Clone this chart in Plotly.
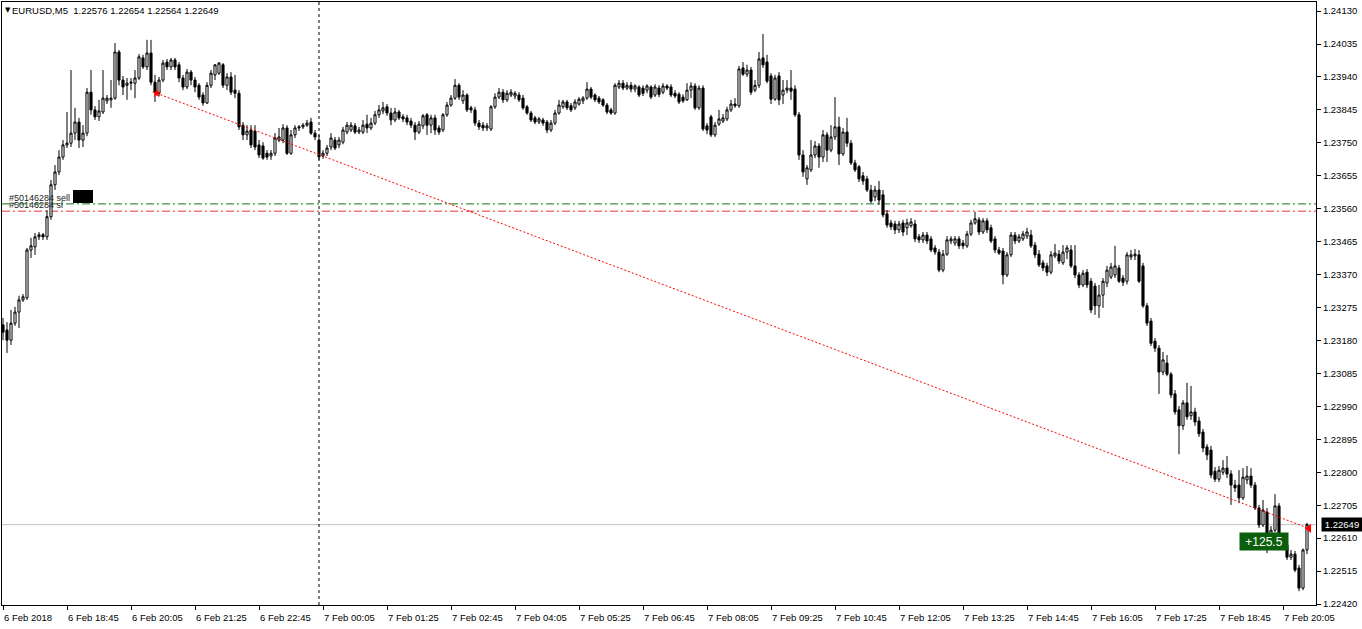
import plotly.graph_objects as go
import pandas as pd

# ---------------- data ----------------
symbol_title = "EURUSD,M5"
title_ohlc = ["1.22576", "1.22654", "1.22564", "1.22649"]
first_bar = "2018-02-06 17:25"

opens = [
    1.23225, 1.23210, 1.23181, 1.23230, 1.23262, 1.23297, 1.23303, 1.23441, 1.23450, 1.23479,
    1.23485, 1.23479, 1.23537, 1.23629, 1.23666, 1.23709, 1.23744, 1.23749, 1.23778, 1.23810,
    1.23758, 1.23778, 1.23896, 1.23845, 1.23825, 1.23839, 1.23871, 1.23874, 1.23879, 1.24012,
    1.23931, 1.23916, 1.23922, 1.23922, 1.23937, 1.23995, 1.23969, 1.24009, 1.23925, 1.23893,
    1.23931, 1.23983, 1.23969, 1.23989, 1.23975, 1.23937, 1.23911, 1.23954, 1.23931, 1.23916,
    1.23888, 1.23865, 1.23916, 1.23946, 1.23951, 1.23975, 1.23916, 1.23940, 1.23902, 1.23893,
    1.23801, 1.23773, 1.23787, 1.23784, 1.23744, 1.23741, 1.23720, 1.23712, 1.23720, 1.23758,
    1.23758, 1.23793, 1.23720, 1.23773, 1.23793, 1.23796, 1.23801, 1.23810, 1.23778, 1.23758,
    1.23712, 1.23720, 1.23738, 1.23758, 1.23744, 1.23752, 1.23781, 1.23787, 1.23799, 1.23781,
    1.23781, 1.23804, 1.23793, 1.23807, 1.23831, 1.23842, 1.23854, 1.23836, 1.23816, 1.23839,
    1.23825, 1.23822, 1.23813, 1.23801, 1.23781, 1.23799, 1.23831, 1.23801, 1.23822, 1.23793,
    1.23787, 1.23831, 1.23859, 1.23879, 1.23916, 1.23871, 1.23888, 1.23851, 1.23845, 1.23807,
    1.23801, 1.23793, 1.23790, 1.23854, 1.23882, 1.23896, 1.23874, 1.23888, 1.23885, 1.23888,
    1.23879, 1.23854, 1.23836, 1.23822, 1.23810, 1.23816, 1.23810, 1.23787, 1.23807, 1.23836,
    1.23854, 1.23868, 1.23857, 1.23851, 1.23862, 1.23871, 1.23879, 1.23905, 1.23888, 1.23879,
    1.23874, 1.23859, 1.23845, 1.23836, 1.23911, 1.23922, 1.23908, 1.23916, 1.23905, 1.23911,
    1.23908, 1.23902, 1.23911, 1.23888, 1.23908, 1.23896, 1.23914, 1.23911, 1.23893, 1.23890,
    1.23882, 1.23874, 1.23902, 1.23914, 1.23851, 1.23908, 1.23799, 1.23825, 1.23773, 1.23804,
    1.23813, 1.23819, 1.23845, 1.23862, 1.23857, 1.23966, 1.23948, 1.23960, 1.23902, 1.23916,
    1.23995, 1.23983, 1.23943, 1.23876, 1.23943, 1.23888, 1.23902, 1.23908, 1.23905, 1.23831,
    1.23715, 1.23646, 1.23672, 1.23715, 1.23741, 1.23709, 1.23773, 1.23729, 1.23767, 1.23796,
    1.23718, 1.23781, 1.23749, 1.23692, 1.23681, 1.23655, 1.23646, 1.23614, 1.23594, 1.23614,
    1.23600, 1.23545, 1.23519, 1.23516, 1.23499, 1.23519, 1.23505, 1.23511, 1.23516, 1.23479,
    1.23470, 1.23484, 1.23473, 1.23447, 1.23435, 1.23383, 1.23429, 1.23467, 1.23461, 1.23473,
    1.23461, 1.23453, 1.23487, 1.23519, 1.23528, 1.23493, 1.23525, 1.23505, 1.23473, 1.23441,
    1.23438, 1.23369, 1.23427, 1.23484, 1.23467, 1.23473, 1.23481, 1.23484, 1.23455, 1.23429,
    1.23404, 1.23395, 1.23377, 1.23424, 1.23429, 1.23404, 1.23435, 1.23441, 1.23395, 1.23369,
    1.23340, 1.23377, 1.23351, 1.23337, 1.23280, 1.23311, 1.23346, 1.23363, 1.23369, 1.23389,
    1.23360, 1.23351, 1.23421, 1.23424, 1.23427, 1.23395, 1.23280, 1.23236, 1.23178, 1.23158,
    1.23089, 1.23115, 1.23083, 1.23026, 1.22980, 1.22934, 1.23000, 1.22963, 1.22974, 1.22948,
    1.22916, 1.22873, 1.22864, 1.22803, 1.22780, 1.22800, 1.22812, 1.22795, 1.22763, 1.22763,
    1.22726, 1.22778, 1.22789, 1.22763, 1.22697, 1.22648, 1.22685, 1.22587, 1.22633, 1.22703,
    1.22607, 1.22590, 1.22555, 1.22564, 1.22524, 1.22466, 1.22576,
]

highs = [
    1.23245, 1.23233, 1.23268, 1.23277, 1.23309, 1.23314, 1.23447, 1.23476, 1.23490, 1.23493,
    1.23490, 1.23556, 1.23643, 1.23686, 1.23729, 1.23758, 1.23839, 1.23960, 1.23851, 1.23822,
    1.23801, 1.23908, 1.23960, 1.23856, 1.23874, 1.23960, 1.23888, 1.23931, 1.24038, 1.24018,
    1.23943, 1.23937, 1.23937, 1.23960, 1.24006, 1.24004, 1.24047, 1.24047, 1.23946, 1.23940,
    1.23989, 1.23992, 1.23995, 1.23995, 1.23983, 1.23946, 1.23963, 1.23960, 1.23940, 1.23922,
    1.23896, 1.23925, 1.23960, 1.23977, 1.23983, 1.23980, 1.23951, 1.23954, 1.23946, 1.23902,
    1.23810, 1.23801, 1.23801, 1.23801, 1.23758, 1.23752, 1.23729, 1.23729, 1.23778, 1.23793,
    1.23804, 1.23801, 1.23787, 1.23801, 1.23801, 1.23807, 1.23816, 1.23822, 1.23787, 1.23773,
    1.23729, 1.23744, 1.23778, 1.23767, 1.23767, 1.23796, 1.23810, 1.23810, 1.23807, 1.23796,
    1.23816, 1.23831, 1.23822, 1.23842, 1.23859, 1.23868, 1.23862, 1.23851, 1.23851, 1.23845,
    1.23833, 1.23831, 1.23822, 1.23810, 1.23813, 1.23833, 1.23836, 1.23831, 1.23831, 1.23801,
    1.23836, 1.23868, 1.23888, 1.23934, 1.23922, 1.23902, 1.23893, 1.23857, 1.23854, 1.23816,
    1.23810, 1.23807, 1.23859, 1.23893, 1.23908, 1.23905, 1.23902, 1.23905, 1.23899, 1.23896,
    1.23888, 1.23859, 1.23842, 1.23828, 1.23825, 1.23822, 1.23816, 1.23816, 1.23845, 1.23874,
    1.23874, 1.23874, 1.23865, 1.23876, 1.23882, 1.23885, 1.23925, 1.23911, 1.23893, 1.23885,
    1.23879, 1.23865, 1.23851, 1.23922, 1.23931, 1.23931, 1.23925, 1.23925, 1.23919, 1.23916,
    1.23916, 1.23919, 1.23916, 1.23919, 1.23916, 1.23922, 1.23919, 1.23919, 1.23902, 1.23896,
    1.23890, 1.23922, 1.23925, 1.23922, 1.23916, 1.23916, 1.23807, 1.23831, 1.23810, 1.23845,
    1.23833, 1.23854, 1.23874, 1.23879, 1.23972, 1.23983, 1.23975, 1.23969, 1.23931, 1.24012,
    1.24064, 1.24004, 1.23951, 1.23946, 1.23954, 1.23931, 1.23931, 1.23960, 1.23916, 1.23839,
    1.23729, 1.23686, 1.23758, 1.23755, 1.23749, 1.23787, 1.23781, 1.23801, 1.23882, 1.23825,
    1.23793, 1.23822, 1.23758, 1.23701, 1.23686, 1.23666, 1.23655, 1.23629, 1.23626, 1.23640,
    1.23614, 1.23556, 1.23528, 1.23525, 1.23525, 1.23528, 1.23531, 1.23533, 1.23528, 1.23487,
    1.23493, 1.23493, 1.23481, 1.23455, 1.23444, 1.23441, 1.23481, 1.23481, 1.23481, 1.23481,
    1.23470, 1.23496, 1.23528, 1.23551, 1.23536, 1.23533, 1.23533, 1.23514, 1.23481, 1.23450,
    1.23447, 1.23435, 1.23493, 1.23493, 1.23487, 1.23496, 1.23505, 1.23499, 1.23464, 1.23441,
    1.23412, 1.23404, 1.23438, 1.23458, 1.23441, 1.23455, 1.23455, 1.23455, 1.23455, 1.23377,
    1.23383, 1.23386, 1.23360, 1.23346, 1.23340, 1.23360, 1.23395, 1.23404, 1.23453, 1.23398,
    1.23369, 1.23435, 1.23441, 1.23444, 1.23441, 1.23404, 1.23288, 1.23245, 1.23187, 1.23167,
    1.23147, 1.23138, 1.23089, 1.23037, 1.22991, 1.23008, 1.23058, 1.23049, 1.22986, 1.22960,
    1.22925, 1.22881, 1.22876, 1.22815, 1.22818, 1.22835, 1.22847, 1.22806, 1.22778, 1.22806,
    1.22812, 1.22818, 1.22812, 1.22772, 1.22706, 1.22720, 1.22697, 1.22645, 1.22737, 1.22711,
    1.22619, 1.22605, 1.22576, 1.22573, 1.22533, 1.22580, 1.22654,
]

lows = [
    1.23181, 1.23144, 1.23167, 1.23222, 1.23216, 1.23291, 1.23297, 1.23418, 1.23427, 1.23470,
    1.23470, 1.23470, 1.23528, 1.23614, 1.23657, 1.23701, 1.23735, 1.23738, 1.23758, 1.23735,
    1.23738, 1.23769, 1.23831, 1.23816, 1.23813, 1.23833, 1.23862, 1.23851, 1.23874, 1.23916,
    1.23888, 1.23874, 1.23902, 1.23879, 1.23931, 1.23963, 1.23960, 1.23916, 1.23868, 1.23885,
    1.23925, 1.23960, 1.23960, 1.23960, 1.23925, 1.23902, 1.23905, 1.23916, 1.23896, 1.23874,
    1.23857, 1.23862, 1.23908, 1.23931, 1.23946, 1.23908, 1.23902, 1.23888, 1.23879, 1.23787,
    1.23758, 1.23758, 1.23735, 1.23729, 1.23706, 1.23701, 1.23701, 1.23701, 1.23712, 1.23752,
    1.23749, 1.23715, 1.23715, 1.23764, 1.23784, 1.23790, 1.23796, 1.23773, 1.23758, 1.23701,
    1.23704, 1.23712, 1.23729, 1.23729, 1.23735, 1.23746, 1.23775, 1.23781, 1.23775, 1.23775,
    1.23775, 1.23778, 1.23787, 1.23801, 1.23822, 1.23833, 1.23828, 1.23801, 1.23810, 1.23816,
    1.23810, 1.23801, 1.23793, 1.23758, 1.23775, 1.23790, 1.23773, 1.23778, 1.23773, 1.23773,
    1.23781, 1.23825, 1.23854, 1.23874, 1.23874, 1.23862, 1.23839, 1.23836, 1.23799, 1.23787,
    1.23784, 1.23784, 1.23784, 1.23848, 1.23876, 1.23865, 1.23868, 1.23882, 1.23876, 1.23868,
    1.23845, 1.23831, 1.23810, 1.23804, 1.23804, 1.23799, 1.23778, 1.23781, 1.23801, 1.23831,
    1.23848, 1.23845, 1.23839, 1.23845, 1.23857, 1.23862, 1.23874, 1.23876, 1.23868, 1.23862,
    1.23854, 1.23833, 1.23831, 1.23831, 1.23905, 1.23902, 1.23902, 1.23896, 1.23896, 1.23882,
    1.23885, 1.23893, 1.23876, 1.23882, 1.23882, 1.23890, 1.23902, 1.23882, 1.23879, 1.23862,
    1.23865, 1.23871, 1.23879, 1.23845, 1.23845, 1.23784, 1.23775, 1.23767, 1.23767, 1.23799,
    1.23807, 1.23813, 1.23839, 1.23851, 1.23851, 1.23943, 1.23940, 1.23888, 1.23896, 1.23908,
    1.23966, 1.23922, 1.23862, 1.23871, 1.23859, 1.23862, 1.23893, 1.23874, 1.23825, 1.23701,
    1.23652, 1.23629, 1.23666, 1.23706, 1.23678, 1.23695, 1.23695, 1.23723, 1.23758, 1.23686,
    1.23712, 1.23738, 1.23686, 1.23666, 1.23637, 1.23629, 1.23608, 1.23576, 1.23582, 1.23571,
    1.23535, 1.23505, 1.23499, 1.23487, 1.23490, 1.23481, 1.23484, 1.23505, 1.23464, 1.23461,
    1.23461, 1.23458, 1.23435, 1.23427, 1.23377, 1.23377, 1.23424, 1.23458, 1.23453, 1.23444,
    1.23444, 1.23447, 1.23481, 1.23514, 1.23484, 1.23487, 1.23490, 1.23461, 1.23432, 1.23427,
    1.23342, 1.23363, 1.23421, 1.23458, 1.23461, 1.23467, 1.23473, 1.23447, 1.23418, 1.23392,
    1.23380, 1.23366, 1.23371, 1.23418, 1.23401, 1.23398, 1.23415, 1.23389, 1.23360, 1.23331,
    1.23334, 1.23331, 1.23259, 1.23254, 1.23245, 1.23274, 1.23334, 1.23357, 1.23360, 1.23346,
    1.23337, 1.23342, 1.23412, 1.23412, 1.23346, 1.23274, 1.23222, 1.23164, 1.23147, 1.23026,
    1.23080, 1.23077, 1.23014, 1.22966, 1.22852, 1.22922, 1.22951, 1.22951, 1.22934, 1.22902,
    1.22858, 1.22835, 1.22783, 1.22772, 1.22772, 1.22792, 1.22783, 1.22706, 1.22743, 1.22711,
    1.22720, 1.22766, 1.22755, 1.22691, 1.22639, 1.22642, 1.22567, 1.22581, 1.22627, 1.22587,
    1.22576, 1.22547, 1.22547, 1.22512, 1.22457, 1.22460, 1.22564,
]

closes = [
    1.23204, 1.23181, 1.23230, 1.23262, 1.23297, 1.23306, 1.23441, 1.23453, 1.23479, 1.23485,
    1.23479, 1.23537, 1.23629, 1.23666, 1.23709, 1.23744, 1.23749, 1.23778, 1.23810, 1.23758,
    1.23778, 1.23896, 1.23845, 1.23825, 1.23842, 1.23879, 1.23879, 1.23879, 1.24012, 1.23931,
    1.23911, 1.23922, 1.23925, 1.23937, 1.23998, 1.23969, 1.24009, 1.23925, 1.23896, 1.23931,
    1.23980, 1.23969, 1.23989, 1.23969, 1.23937, 1.23911, 1.23954, 1.23931, 1.23911, 1.23882,
    1.23865, 1.23916, 1.23951, 1.23975, 1.23980, 1.23916, 1.23940, 1.23896, 1.23893, 1.23796,
    1.23773, 1.23784, 1.23744, 1.23738, 1.23715, 1.23706, 1.23709, 1.23720, 1.23764, 1.23767,
    1.23793, 1.23720, 1.23773, 1.23793, 1.23796, 1.23801, 1.23807, 1.23778, 1.23767, 1.23709,
    1.23720, 1.23735, 1.23764, 1.23735, 1.23758, 1.23787, 1.23801, 1.23801, 1.23781, 1.23787,
    1.23801, 1.23793, 1.23807, 1.23831, 1.23845, 1.23851, 1.23836, 1.23816, 1.23839, 1.23822,
    1.23819, 1.23810, 1.23801, 1.23781, 1.23804, 1.23828, 1.23801, 1.23822, 1.23787, 1.23781,
    1.23831, 1.23859, 1.23879, 1.23916, 1.23882, 1.23888, 1.23845, 1.23845, 1.23807, 1.23796,
    1.23793, 1.23799, 1.23854, 1.23882, 1.23896, 1.23874, 1.23893, 1.23896, 1.23893, 1.23874,
    1.23851, 1.23836, 1.23816, 1.23810, 1.23819, 1.23807, 1.23787, 1.23807, 1.23836, 1.23859,
    1.23868, 1.23851, 1.23845, 1.23868, 1.23876, 1.23879, 1.23905, 1.23882, 1.23874, 1.23868,
    1.23859, 1.23839, 1.23836, 1.23916, 1.23922, 1.23908, 1.23916, 1.23905, 1.23914, 1.23888,
    1.23893, 1.23914, 1.23882, 1.23911, 1.23890, 1.23914, 1.23908, 1.23888, 1.23885, 1.23868,
    1.23871, 1.23902, 1.23914, 1.23851, 1.23908, 1.23790, 1.23787, 1.23773, 1.23801, 1.23819,
    1.23822, 1.23845, 1.23862, 1.23857, 1.23963, 1.23948, 1.23960, 1.23896, 1.23916, 1.23992,
    1.23975, 1.23928, 1.23876, 1.23937, 1.23874, 1.23902, 1.23908, 1.23899, 1.23831, 1.23715,
    1.23666, 1.23678, 1.23715, 1.23741, 1.23709, 1.23773, 1.23729, 1.23767, 1.23796, 1.23718,
    1.23781, 1.23749, 1.23692, 1.23672, 1.23646, 1.23640, 1.23614, 1.23582, 1.23614, 1.23585,
    1.23542, 1.23513, 1.23508, 1.23499, 1.23516, 1.23493, 1.23519, 1.23522, 1.23473, 1.23470,
    1.23484, 1.23467, 1.23441, 1.23435, 1.23383, 1.23429, 1.23470, 1.23473, 1.23473, 1.23453,
    1.23453, 1.23487, 1.23519, 1.23531, 1.23493, 1.23525, 1.23499, 1.23467, 1.23441, 1.23432,
    1.23369, 1.23427, 1.23484, 1.23467, 1.23479, 1.23487, 1.23493, 1.23453, 1.23427, 1.23398,
    1.23389, 1.23377, 1.23427, 1.23432, 1.23409, 1.23435, 1.23447, 1.23395, 1.23369, 1.23340,
    1.23374, 1.23340, 1.23268, 1.23280, 1.23311, 1.23351, 1.23383, 1.23392, 1.23395, 1.23351,
    1.23348, 1.23427, 1.23427, 1.23429, 1.23351, 1.23280, 1.23230, 1.23172, 1.23158, 1.23089,
    1.23124, 1.23083, 1.23023, 1.22974, 1.22934, 1.23000, 1.22960, 1.22974, 1.22945, 1.22911,
    1.22870, 1.22850, 1.22792, 1.22780, 1.22806, 1.22812, 1.22795, 1.22763, 1.22755, 1.22726,
    1.22786, 1.22789, 1.22763, 1.22697, 1.22648, 1.22691, 1.22587, 1.22633, 1.22703, 1.22596,
    1.22590, 1.22555, 1.22564, 1.22518, 1.22466, 1.22576, 1.22649,
]

x_tick_times = [
    "2018-02-06 17:25", "2018-02-06 18:45", "2018-02-06 20:05", "2018-02-06 21:25",
    "2018-02-06 22:45", "2018-02-07 00:05", "2018-02-07 01:25", "2018-02-07 02:45",
    "2018-02-07 04:05", "2018-02-07 05:25", "2018-02-07 06:45", "2018-02-07 08:05",
    "2018-02-07 09:25", "2018-02-07 10:45", "2018-02-07 12:05", "2018-02-07 13:25",
    "2018-02-07 14:45", "2018-02-07 16:05", "2018-02-07 17:25", "2018-02-07 18:45",
    "2018-02-07 20:05",
]
x_tick_labels = [
    "6 Feb 2018", "6 Feb 18:45", "6 Feb 20:05", "6 Feb 21:25", "6 Feb 22:45",
    "7 Feb 00:05", "7 Feb 01:25", "7 Feb 02:45", "7 Feb 04:05", "7 Feb 05:25",
    "7 Feb 06:45", "7 Feb 08:05", "7 Feb 09:25", "7 Feb 10:45", "7 Feb 12:05",
    "7 Feb 13:25", "7 Feb 14:45", "7 Feb 16:05", "7 Feb 17:25", "7 Feb 18:45",
    "7 Feb 20:05",
]
y_tick_vals = [
    1.24130, 1.24035, 1.23940, 1.23845, 1.23750, 1.23655, 1.23560, 1.23465, 1.23370,
    1.23275, 1.23180, 1.23085, 1.22990, 1.22895, 1.22800, 1.22705, 1.22610, 1.22515, 1.22420,
]

order_ticket = "#50146284"
sell_level = 1.23574
sl_level = 1.23553
bid_price = 1.22649
separator_time = "2018-02-07 00:00"
trade_times = ["2018-02-06 20:37", "2018-02-07 20:37:30"]
trade_prices = [1.23893, 1.22638]
profit_text = "+125.5"

# ---------------- layout helpers (pixel geometry) ----------------
W, H = 1362, 629
PX0, PX1, PY0, PY1 = 2, 1316, 2, 605
Y_RANGE = [1.224172, 1.241562]
X_RANGE = ["2018-02-06 17:23:45", "2018-02-07 20:46:15"]


def fx(px):
    return (px - PX0) / (PX1 - PX0)


def fy(py):
    return (PY1 - py) / (PY1 - PY0)


FONT = "Liberation Sans, Arial, sans-serif"
times = pd.date_range(first_bar, periods=len(opens), freq="5min")

fig = go.Figure()
fig.add_trace(go.Candlestick(
    x=times, open=opens, high=highs, low=lows, close=closes,
    increasing=dict(line=dict(color="black", width=1), fillcolor="white"),
    decreasing=dict(line=dict(color="black", width=1), fillcolor="black"),
    whiskerwidth=0, showlegend=False, hoverinfo="skip",
))

# trade line
fig.add_trace(go.Scatter(
    x=trade_times, y=trade_prices, mode="lines",
    line=dict(color="red", width=1, dash="2px,2px"),
    showlegend=False, hoverinfo="skip",
))
fig.add_trace(go.Scatter(
    x=[trade_times[0]], y=[trade_prices[0]], mode="markers",
    marker=dict(symbol="star", size=7, color="red"),
    showlegend=False, hoverinfo="skip",
))
fig.add_trace(go.Scatter(
    x=[trade_times[1]], y=[trade_prices[1]], mode="markers",
    marker=dict(symbol="triangle-left", size=8, color="red"),
    showlegend=False, hoverinfo="skip",
))

shapes = [
    dict(type="line", xref="paper", yref="y", x0=0, x1=1, y0=bid_price, y1=bid_price,
         line=dict(color="#C0C0C0", width=1), layer="below"),
    dict(type="line", xref="paper", yref="y", x0=0, x1=1, y0=sell_level, y1=sell_level,
         line=dict(color="#117711", width=1, dash="8px,3px,2px,3px"), layer="below"),
    dict(type="line", xref="paper", yref="y", x0=0, x1=1, y0=sl_level, y1=sl_level,
         line=dict(color="#E83030", width=1, dash="8px,3px,2px,3px"), layer="below"),
    dict(type="line", xref="x", yref="paper", x0=separator_time, x1=separator_time, y0=0, y1=1,
         line=dict(color="black", width=1, dash="3px,3px"), layer="below"),
    dict(type="rect", xref="paper", yref="paper", x0=fx(73), x1=fx(93), y0=fy(203), y1=fy(190),
         fillcolor="black", line=dict(width=0)),
]

ann = []
# title
ann.append(dict(xref="paper", yref="paper", x=fx(3), y=fy(10), xanchor="left", yanchor="middle",
                text="▼", showarrow=False, font=dict(family="DejaVu Sans", size=7, color="black")))
ann.append(dict(xref="paper", yref="paper", x=fx(10), y=fy(10), xanchor="left", yanchor="middle",
                text=symbol_title + "\u00a0\u00a0" + " ".join(title_ohlc), showarrow=False,
                font=dict(family=FONT, size=9.5, color="black")))
# order labels
ann.append(dict(xref="paper", yref="paper", x=fx(7), y=fy(198), xanchor="left", yanchor="middle",
                text=order_ticket + " sell", showarrow=False,
                font=dict(family=FONT, size=9, color="#222222")))
ann.append(dict(xref="paper", yref="paper", x=fx(7), y=fy(205), xanchor="left", yanchor="middle",
                text=order_ticket + " sl", showarrow=False,
                font=dict(family=FONT, size=9, color="#222222")))
# x-axis labels (left aligned at tick)
for t, lab in zip(x_tick_times, x_tick_labels):
    ann.append(dict(xref="x", yref="paper", x=t, y=fy(617), xanchor="left", yanchor="middle",
                    xshift=-1, text=lab, showarrow=False,
                    font=dict(family=FONT, size=9.5, color="black")))
# current price tag on axis
ann.append(dict(xref="paper", yref="y", x=fx(1321), y=bid_price, xanchor="left", yanchor="middle",
                text=f"{bid_price:.5f}", showarrow=False, bgcolor="black",
                width=38, height=11, borderpad=1,
                font=dict(family=FONT, size=9.5, color="white")))
# profit tag
ann.append(dict(xref="paper", yref="paper", x=fx(1239), y=fy(541.5), xanchor="left", yanchor="middle",
                text=profit_text, showarrow=False, bgcolor="#0B5E0B",
                width=46, height=15, borderpad=1,
                font=dict(family=FONT, size=12, color="white")))

fig.update_layout(
    width=W, height=H,
    margin=dict(l=PX0, r=W - PX1, t=PY0, b=H - PY1, pad=0),
    paper_bgcolor="white", plot_bgcolor="white",
    showlegend=False, boxgap=0.25,
    shapes=shapes, annotations=ann,
    xaxis=dict(type="date", range=X_RANGE, rangeslider=dict(visible=False),
               showgrid=False, zeroline=False, showline=True, linecolor="black", linewidth=1,
               mirror=True, ticks="outside", ticklen=4, tickcolor="black",
               tickvals=x_tick_times, showticklabels=False),
    yaxis=dict(range=Y_RANGE, side="right", showgrid=False, zeroline=False,
               showline=True, linecolor="black", linewidth=1, mirror=True,
               ticks="outside", ticklen=4, tickcolor="black",
               tickvals=y_tick_vals, ticktext=[f"{v:.5f}" for v in y_tick_vals],
               tickfont=dict(family=FONT, size=9.5, color="black")),
)

fig.write_html(
    "out.html",
    config={"displayModeBar": False, "staticPlot": True},
    post_script="document.body.style.margin='0';document.body.style.padding='0';"
                "document.documentElement.style.overflow='hidden';",
)
